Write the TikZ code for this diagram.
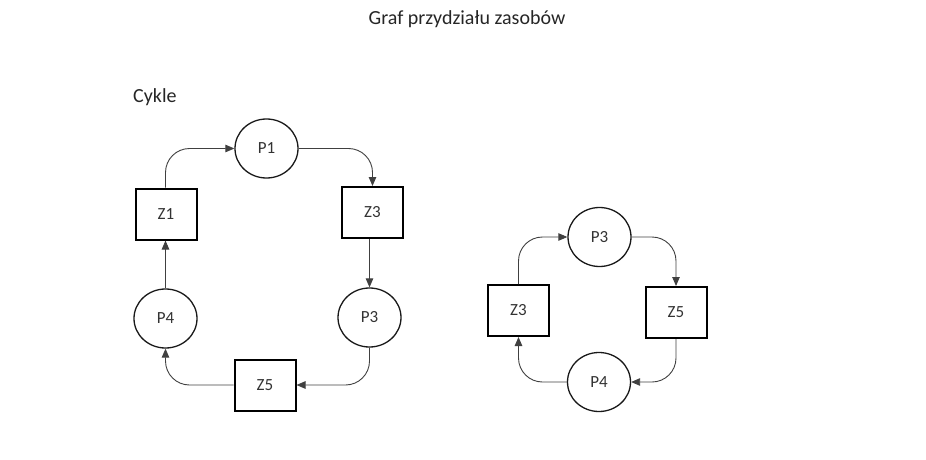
\documentclass[tikz,border=0pt]{standalone}
\usepackage{fontspec}
\setmainfont{Carlito}
\usetikzlibrary{arrows.meta,shapes.geometric}
\begin{document}
\begin{tikzpicture}[x=1pt,y=-1pt,
  proc/.style={ellipse,draw=black!90,line width=1.3pt,minimum width=63pt,minimum height=59pt,inner sep=0pt,text=black!80,font=\fontsize{17}{19}\selectfont},
  res/.style={rectangle,draw=black,line width=2pt,minimum width=61pt,minimum height=51pt,inner sep=0pt,text=black!80,font=\fontsize{17}{19}\selectfont},
  conn/.style={draw=black!75,line width=0.9pt,-{Triangle[length=9pt,width=7.5pt]},rounded corners=24pt},
  lbl/.style={text=black!85,font=\fontsize{20}{24}\selectfont,inner sep=0pt}]
\useasboundingbox (0,0) rectangle (926,460);
\node[lbl] (title) at (467,19) {Graf przydziału zasobów};
\node[lbl,anchor=west] (cykle) at (133,97) {Cykle};
% left cycle
\node[proc] (P1L) at (266.5,148.5) {P1};
\node[res] (Z3L) at (372.5,212.5) {Z3};
\node[proc] (P3L) at (369.5,317.5) {P3};
\node[res] (Z5L) at (265,385) {Z5};
\node[proc] (P4L) at (165.5,318.5) {P4};
\node[res] (Z1L) at (166,214) {Z1};
\draw[conn] (Z1L.north -| P4L.north) |- (P1L.west);
\draw[conn] (P1L.east) -| (Z3L.north);
\draw[conn] (Z3L.south -| P3L.north) -- (P3L.north);
\draw[conn] (P3L.south) |- (Z5L.east);
\draw[conn] (Z5L.west) -| (P4L.south);
\draw[conn] (P4L.north) -- (Z1L.south -| P4L.north);
% right cycle
\node[proc] (P3R) at (599.5,237) {P3};
\node[res] (Z5R) at (676,312.5) {Z5};
\node[proc] (P4R) at (599,382) {P4};
\node[res] (Z3R) at (518.5,310.5) {Z3};
\draw[conn] (Z3R.north) |- (P3R.west);
\draw[conn] (P3R.east) -| (Z5R.north);
\draw[conn] (Z5R.south) |- (P4R.east);
\draw[conn] (P4R.west) -| (Z3R.south);
\end{tikzpicture}
\end{document}
